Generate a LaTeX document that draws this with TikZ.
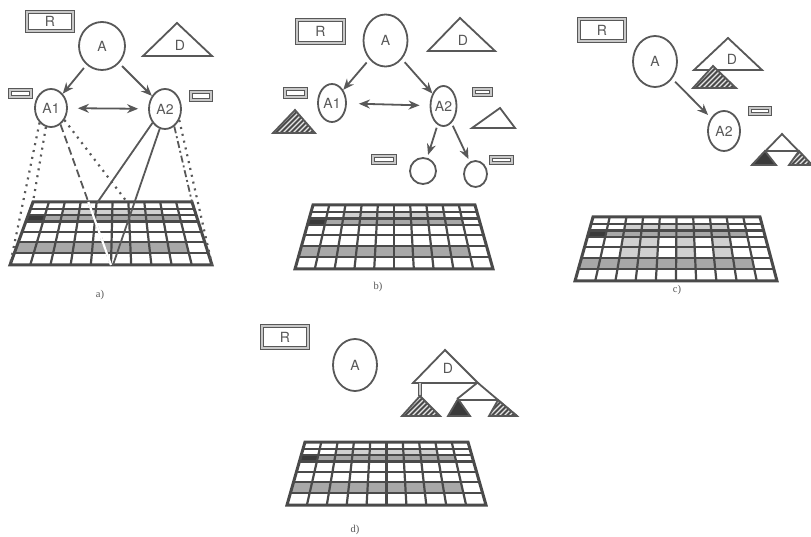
\documentclass[tikz,border=0pt]{standalone}
\usepackage{fontspec}
\setmainfont{TeX Gyre Heros}
\newfontfamily\capfont{Liberation Serif}
\usetikzlibrary{shapes.geometric,arrows.meta,calc}

\definecolor{ink}{HTML}{585858}
\definecolor{gridink}{HTML}{4A4A4A}
\definecolor{cellgray}{HTML}{A8A8A8}
\definecolor{cellpale}{HTML}{D0D0D0}
\definecolor{celldark}{HTML}{3A3A3A}
\definecolor{hatchfill}{HTML}{4A4A4A}
\definecolor{boxcore}{HTML}{C8C8C8}

\tikzset{
  every node/.style={text=ink},
  obj/.style={ellipse, draw=ink, line width=1.8pt, inner sep=0pt,
    font=\fontsize{14}{14}\selectfont},
  relbox/.style={draw=ink, double=boxcore, double distance=1.2pt, line width=1.6pt,
    inner sep=0pt, font=\fontsize{14}{14}\selectfont},
  tri/.style={draw=ink, line width=1.8pt, line join=miter},
  arr/.style={draw=ink, line width=1.8pt, -{Stealth[length=11pt,width=9pt]}},
  darr/.style={draw=ink, line width=1.8pt,
    {Stealth[length=11pt,width=9pt]}-{Stealth[length=11pt,width=9pt]}},
  conn/.style={draw=ink, line width=1.8pt},
  dotline/.style={conn, line width=2.2pt, dash pattern=on 2pt off 5pt},
  dashline/.style={conn, dash pattern=on 8pt off 4pt},
  dashdotline/.style={conn, dash pattern=on 7pt off 3pt on 2pt off 3pt},
  gline/.style={draw=gridink, line width=2.2pt},
  gborder/.style={draw=gridink, line width=3pt, line join=miter},
  caption/.style={font=\capfont\fontsize{10.5}{10.5}\selectfont},
  dlabel/.style={font=\fontsize{14}{14}\selectfont, inner sep=0pt}
}

% row boundaries of the table drawings (fraction of the height)
\def\rowv{{0,0.11,0.21,0.31,0.47,0.64,0.81,1}}

% table outline: top y, bottom y, top-left x, top-right x, bottom-left x, bottom-right x
\newcommand\gsetup[6]{\def\gTy{#1}\def\gBy{#2}\def\gTL{#3}\def\gTR{#4}\def\gBL{#5}\def\gBR{#6}}
% point at fraction (u,v) of the table
\newcommand\gpoint[3]{%
  \pgfmathsetmacro\gy{\gTy+(#3)*(\gBy-\gTy)}%
  \pgfmathsetmacro\gl{\gTL+(#3)*(\gBL-\gTL)}%
  \pgfmathsetmacro\gr{\gTR+(#3)*(\gBR-\gTR)}%
  \pgfmathsetmacro\gx{\gl+(#2)*(\gr-\gl)}%
  \coordinate (#1) at (\gx,\gy);}
% shaded cell: column, row, colour
\newcommand\gcell[3]{%
  \pgfmathsetmacro\ua{(#1-1)/10}\pgfmathsetmacro\ub{(#1)/10}%
  \pgfmathsetmacro\va{\rowv[#2-1]}\pgfmathsetmacro\vb{\rowv[#2]}%
  \gpoint{c1}{\ua}{\va}\gpoint{c2}{\ub}{\va}\gpoint{c3}{\ub}{\vb}\gpoint{c4}{\ua}{\vb}%
  \fill[#3] (c1)--(c2)--(c3)--(c4)--cycle;}
\newcommand\gridlines{%
  \foreach \i in {1,...,6}{\pgfmathsetmacro\gv{\rowv[\i]}\gpoint{gp}{0}{\gv}\gpoint{gq}{1}{\gv}\draw[gline] (gp)--(gq);}
  \foreach \j in {1,...,9}{\gpoint{gp}{\j/10}{0}\gpoint{gq}{\j/10}{1}\draw[gline] (gp)--(gq);}
  \gpoint{g00}{0}{0}\gpoint{g10}{1}{0}\gpoint{g11}{1}{1}\gpoint{g01}{0}{1}
  \draw[gborder] (g00)--(g10)--(g11)--(g01)--cycle;}
\newcommand\stdshade{%
  \foreach \cc in {3,...,8}{\gcell{\cc}{2}{cellpale}}
  \gcell{1}{3}{celldark}
  \foreach \cc in {2,...,9}{\gcell{\cc}{3}{cellgray}}
  \foreach \cc in {1,...,9}{\gcell{\cc}{6}{cellgray}}}

% hatched triangle: apex, bottom-left, bottom-right
\newcommand\hatchtri[3]{%
  \begin{scope}
    \clip #1--#2--#3--cycle;
    \fill[hatchfill] #1--#2--#3--cycle;
    \foreach \k in {-50,-45,...,60}{\draw[white!80!gray, line width=1.2pt] ($#2+(\k,0)$) -- ++(50,-50);}
  \end{scope}
  \draw[tri] #1--#2--#3--cycle;}
\newcommand\darktri[3]{\filldraw[tri, fill=celldark] #1--#2--#3--cycle;}

\begin{document}
\begin{tikzpicture}[x=1pt,y=-1pt]
\fill[white] (0,0) rectangle (811,537);
\useasboundingbox (0,0) rectangle (811,537);

%% ---------- a) ----------
\gsetup{202}{265}{33}{192}{10}{212}
\stdshade
\gridlines
\node[relbox, minimum width=46pt, minimum height=19pt] (aR) at (50,21.5) {R};
\node[obj, minimum width=46pt, minimum height=48pt] (aA) at (102,46) {A};
\draw[tri] (177,23) -- (143,56) -- (212,56) -- cycle;
\node[dlabel] (aDt) at (180,45) {D};
\node[obj, minimum width=32pt, minimum height=38pt] (aA1) at (51,108) {A1};
\node[obj, minimum width=32pt, minimum height=40pt] (aA2) at (165,109) {A2};
\node[relbox, minimum width=21pt, minimum height=7pt] (aK1) at (20.5,93.5) {};
\node[relbox, minimum width=20pt, minimum height=8pt] (aK2) at (201,96) {};
\draw[arr, shorten <=4pt] (aA) -- (aA1);
\draw[arr, shorten <=4pt] (aA) -- (aA2);
\draw[darr, shorten <=10pt, shorten >=10pt] (aA1) -- (aA2);
\coordinate (aTL) at (33,202);
\coordinate (aTR) at (192,202);
\coordinate (aBL) at (10,265);
\coordinate (aBR) at (212,265);
\coordinate (aM1) at (111,265);
\coordinate (aM2) at (127,202);
\coordinate (aM3) at (97,203);
\coordinate (aM4) at (113,265);
\coordinate (aS) at (aA1.300);
\draw[dotline] (aA1.232) -- (aBL);
\draw[dotline] (aA1.255) -- (aTL);
\draw[dashline] (aS) -- (aM1);
\draw[white, line width=2.2pt] (intersection of aS--aM1 and aTL--aTR) -- (aM1);
\draw[dotline] (aA1.318) -- (aM2);
\draw[conn] (aA2.228) -- (aM3);
\draw[conn] (aA2.255) -- (aM4);
\draw[dashdotline] (aA2.298) -- (aTR);
\draw[dotline] (aA2.322) -- (aBR);
\node[caption] (acap) at (100,295) {a)};

%% ---------- b) ----------
\gsetup{205}{269}{313}{475}{295}{493}
\stdshade
\gridlines
\node[relbox, minimum width=47pt, minimum height=23pt] (bR) at (320.5,31.5) {R};
\node[obj, minimum width=44pt, minimum height=52pt] (bA) at (385.5,40.5) {A};
\draw[tri] (460,18) -- (428,51) -- (495,51) -- cycle;
\node[dlabel] (bDt) at (463,40) {D};
\node[obj, minimum width=28pt, minimum height=38pt] (bA1) at (332,103) {A1};
\node[obj, minimum width=26pt, minimum height=40pt] (bA2) at (443.5,106) {A2};
\node[relbox, minimum width=21pt, minimum height=8pt] (bK1) at (295.5,93) {};
\hatchtri{(295,110)}{(273,133)}{(315,133)}
\node[relbox, minimum width=17pt, minimum height=6pt] (bK2) at (482.5,92) {};
\draw[tri] (500,108) -- (472,128) -- (515,128) -- cycle;
\node[obj, minimum width=26pt, minimum height=26pt] (bC1) at (423,171) {};
\node[obj, minimum width=23pt, minimum height=26pt] (bC2) at (475.5,174) {};
\node[relbox, minimum width=22pt, minimum height=7pt] (bK3) at (384,159.5) {};
\node[relbox, minimum width=21pt, minimum height=6pt] (bK4) at (501.5,160) {};
\draw[arr, shorten <=4pt] (bA) -- (bA1);
\draw[arr, shorten <=4pt] (bA) -- (bA2);
\draw[darr, shorten <=12pt, shorten >=10pt] (bA1) -- (bA2);
\draw[arr, shorten <=3pt, shorten >=3pt] (bA2) -- (bC1);
\draw[arr, shorten <=3pt, shorten >=3pt] (bA2) -- (bC2);
\node[caption] (bcap) at (378,287) {b)};

%% ---------- c) ----------
\gsetup{217}{281}{593}{760}{575}{777}
\stdshade
\foreach \cc in {3,4,6,8}{\gcell{\cc}{4}{cellpale}\gcell{\cc}{5}{cellpale}}
\gridlines
\node[relbox, minimum width=46pt, minimum height=22pt] (cR) at (602,30) {R};
\node[obj, minimum width=44pt, minimum height=51pt] (cA) at (655,61.5) {A};
\draw[tri] (728,38) -- (694,70) -- (762,70) -- cycle;
\node[dlabel] (cDt) at (732,59) {D};
\hatchtri{(713,66)}{(693,88)}{(736,88)}
\node[obj, minimum width=32pt, minimum height=40pt] (cA2) at (724,131) {A2};
\node[relbox, minimum width=20pt, minimum height=6pt] (cK1) at (760,111) {};
\draw[arr, shorten <=4pt, shorten >=4pt] (cA) -- (cA2);
\draw[tri] (752,165) -- (782,134) -- (812,165);
\draw[tri] (765.5,151) -- (798.5,151);
\darktri{(765,151)}{(752,165)}{(776,165)}
\hatchtri{(799,151)}{(789,165)}{(812,165)}
\node[caption] (ccap) at (677,290) {c)};

%% ---------- d) ----------
\gsetup{442}{505}{305}{468}{287}{486}
\stdshade
\gridlines
\node[relbox, minimum width=46pt, minimum height=22pt] (dR) at (285,337) {R};
\node[obj, minimum width=44pt, minimum height=52pt] (dA) at (355,365) {A};
\draw[tri] (445,350) -- (413,383) -- (478,383) -- cycle;
\node[dlabel] (dDt) at (448,368) {D};
\draw[draw=ink, double=boxcore, double distance=1.4pt, line width=1.4pt] (420,383) -- (420,396);
\hatchtri{(420,396)}{(402,416)}{(440,416)}
\draw[tri] (477,383) -- (457,399);
\draw[tri] (478,383) -- (517,416);
\draw[tri] (457,400) -- (498,400);
\darktri{(458,399)}{(448,416)}{(470,416)}
\hatchtri{(498,400)}{(489,416)}{(517,416)}
\node[caption] (dcap) at (355,530) {d)};
\end{tikzpicture}
\end{document}
